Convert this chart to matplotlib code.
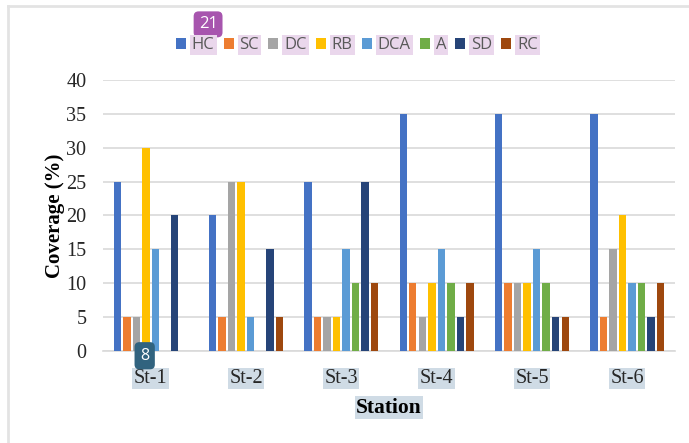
import numpy as np
import matplotlib.pyplot as plt
from matplotlib.lines import Line2D
from matplotlib.patches import Patch

stations = ["St-1", "St-2", "St-3", "St-4", "St-5", "St-6"]
categories = ["HC", "SC", "DC", "RB", "DCA", "A", "SD", "RC"]

hc = [25, 20, 25, 35, 35, 35]
sc = [5, 5, 5, 10, 10, 5]
dc = [5, 25, 5, 5, 10, 15]
rb = [30, 25, 5, 10, 10, 20]
dca = [15, 5, 15, 15, 15, 10]
a = [0, 0, 10, 10, 10, 10]
sd = [20, 15, 25, 5, 5, 5]
rc = [0, 5, 10, 10, 5, 10]

series = [hc, sc, dc, rb, dca, a, sd, rc]
colors = ["#4472C4", "#ED7D31", "#A5A5A5", "#FFC000",
          "#5B9BD5", "#70AD47", "#264478", "#9E480E"]

SERIF = ["Liberation Serif", "DejaVu Serif"]
HILITE_BLUE = "#cfdbe5"
HILITE_PINK = "#ead7ec"

fig = plt.figure(figsize=(6.89, 4.43), dpi=100)
ax = fig.add_axes([0.1495, 0.2077, 0.830, 0.6117])

x = np.arange(len(stations))
slot = 0.8 / len(categories)
for i, (vals, col) in enumerate(zip(series, colors)):
    offs = (i - (len(categories) - 1) / 2) * slot
    ax.bar(x + offs, vals, width=slot * 0.78, color=col, zorder=3)

ax.set_xlim(-0.5, len(stations) - 0.5)
ax.set_ylim(0, 40)
ax.set_yticks(range(0, 41, 5))
ax.grid(axis="y", color="#d9d9d9", linewidth=1.2, zorder=0)
for s in ["top", "right", "left"]:
    ax.spines[s].set_visible(False)
ax.spines["bottom"].set_color("#d9d9d9")
ax.spines["bottom"].set_linewidth(1.2)
ax.tick_params(length=0)
ax.tick_params(axis="y", pad=12)
ax.tick_params(axis="x", pad=13)

ax.set_xticks(x)
ax.set_xticklabels(stations, family=SERIF, fontsize=14.5, color="#262626")
for t in ax.get_xticklabels():
    t.set_bbox(dict(facecolor=HILITE_BLUE, edgecolor="none", pad=1))
for t in ax.get_yticklabels():
    t.set_family(SERIF)
    t.set_fontsize(14.5)
    t.set_color("#262626")

ax.set_ylabel("Coverage (%)", family=SERIF, fontsize=15, fontweight="bold",
              labelpad=1)
xl = ax.set_xlabel("Station", family=SERIF, fontsize=15.5, fontweight="bold",
                   labelpad=7)
xl.set_bbox(dict(facecolor=HILITE_BLUE, edgecolor="none", pad=1))

handles = [Patch(facecolor=c, edgecolor="none") for c in colors]
leg = fig.legend(handles, categories, loc="center", bbox_to_anchor=(0.518, 0.898),
                 ncol=8, frameon=False, handlelength=0.6,
                 handleheight=0.6, handletextpad=0.35, columnspacing=0.55,
                 prop={"family": "Open Sans", "size": 12})
for t in leg.get_texts():
    t.set_color("#595959")
    t.set_bbox(dict(facecolor=HILITE_PINK, edgecolor="none", pad=1.5))

# small numbered badges
fig.text(0.302, 0.945, "21", ha="center", va="center", color="white",
         fontsize=12, family="Open Sans",
         bbox=dict(boxstyle="round,pad=0.3,rounding_size=0.3",
                   facecolor="#a755ae", edgecolor="none"))
fig.text(0.210, 0.197, "8", ha="center", va="center", color="white",
         fontsize=11.5, family="Open Sans", zorder=10,
         bbox=dict(boxstyle="round,pad=0.35,rounding_size=0.3",
                   facecolor="#31637f", edgecolor="none"))

# outer frame
fig.add_artist(Line2D([0.012, 1.0], [0.987, 0.987], color="#e3e3e3", lw=2))
fig.add_artist(Line2D([0.012, 0.012], [0.0, 0.987], color="#e3e3e3", lw=2))

fig.savefig("out.png", dpi=100)
